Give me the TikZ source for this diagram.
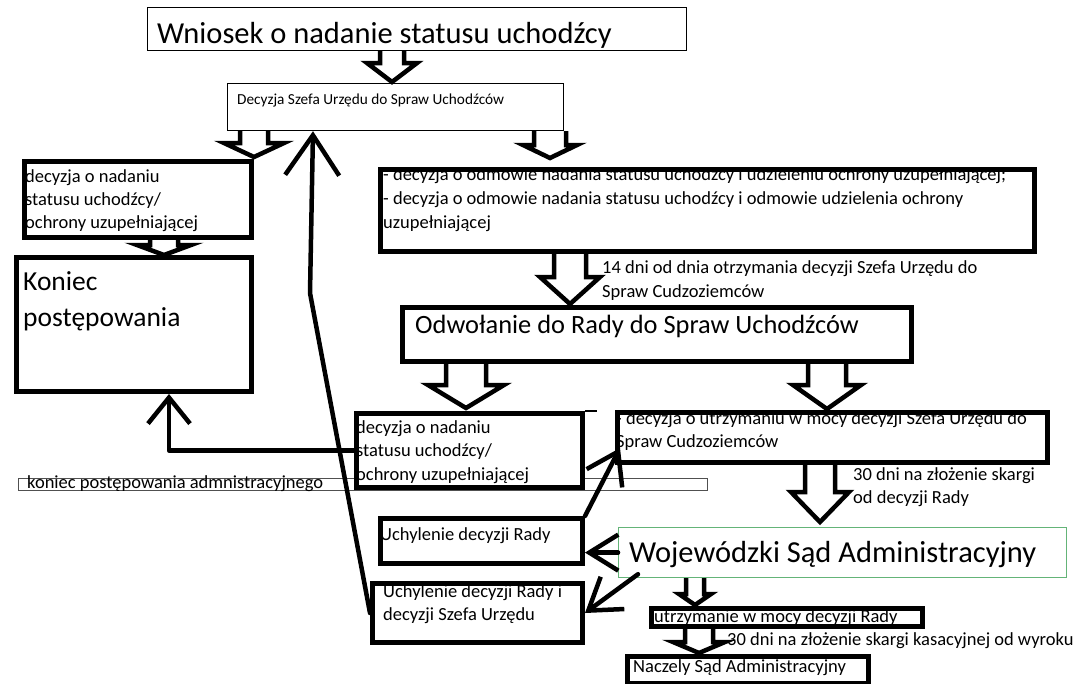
\documentclass[tikz,border=0pt]{standalone}
\usepackage{fontspec}
\setmainfont{Carlito}
\usetikzlibrary{calc,arrows.meta}
\definecolor{wsagreen}{RGB}{100,180,120}
\definecolor{graybox}{RGB}{80,80,80}
\newcommand\fsz[2]{\fontsize{#1}{#2}\selectfont}
% box: style, x1, y1, x2, y2, name
\newcommand\bx[6]{\node[#1, minimum width={#4-#2}, minimum height={#5-#3}] (#6) at (#2,#3) {};}
% hollow arrow: cx, source, target, tip gap, head length, half shaft, half head
\newcommand\harrow[7]{%
  \path (#1,0 |- #2.south) coordinate (a1) (#1,0 |- #3.north) coordinate (a2);
  \draw[hollow] ($(a1)+(-#6,0)$) -- ($(a2)+(-#6,-#4-#5)$) -- ($(a2)+(-#7,-#4-#5)$)
     -- ($(a2)+(0,-#4)$) -- ($(a2)+(#7,-#4-#5)$) -- ($(a2)+(#6,-#4-#5)$) -- ($(a1)+(#6,0)$);}
\begin{document}
\begin{tikzpicture}[x=1pt,y=-1pt,
  thinbox/.style={draw=black, line width=1.2pt, fill=white, rectangle, inner sep=0pt, outer sep=0.6pt, anchor=north west},
  thickbox/.style={draw=black, line width=5pt, fill=white, rectangle, inner sep=0pt, outer sep=2.5pt, anchor=north west},
  greenbox/.style={thinbox, draw=wsagreen},
  graybx/.style={thinbox, draw=graybox, line width=1.3pt},
  hollow/.style={draw=black, fill=white, line width=4.5pt, line join=miter},
  stick/.style={draw=black, line width=4.5pt, line cap=round, line join=round},
  txt/.style={inner sep=0pt, anchor=base west, align=left, text=black},
  small/.style={txt, font=\fsz{18.5}{23}},
]
\useasboundingbox[fill=white] (0,0) rectangle (1083,683);

% gray background note box
\bx{graybx}{18}{478}{707}{490}{grayb}
\node[small] (grayt) at (27,488) {koniec postępowania admnistracyjnego};

% boxes
\bx{thinbox}{147}{7}{686}{50}{title}
\bx{thinbox}{227}{83}{563}{130}{dec}
\bx{thickbox}{22}{159}{249}{235}{nad1}
\bx{thickbox}{14}{255}{249}{389}{koniec}
\bx{thickbox}{378}{167}{1032}{249}{odm}
\bx{thickbox}{400}{305}{909}{359}{odw}
\bx{thickbox}{354}{411}{580}{485}{nad2}
\bx{thickbox}{615}{410}{1045}{460}{utrz}
\bx{greenbox}{618}{527}{1066}{577}{wsa}
\bx{thickbox}{378}{516}{580}{561}{ur}
\bx{thickbox}{370}{581}{580}{640}{ui}
\bx{thickbox}{649}{606}{920}{624}{utr}
\bx{thickbox}{625}{654}{866}{681}{nsa}
\draw[line width=2pt] (nad2.north east) -- ++(12,0);

% texts (multi-line nodes are placed at the baseline of their last line)
\node[txt, font=\fsz{30.5}{34}] (titlet) at (157,43) {Wniosek o nadanie statusu uchodźcy};
\node[txt, font=\fsz{15.3}{18}] (dect) at (237,104) {Decyzja Szefa Urzędu do Spraw Uchodźców};
\node[small] (nad1t) at (25,228) {decyzja o nadaniu\\statusu uchodźcy/\\ochrony uzupełniającej};
\node[txt, font=\fsz{27.5}{36}] (koniect) at (23,326) {Koniec\\postępowania};
\node[small, font=\fsz{18.5}{24}] (odmt) at (383,228) {- decyzja o odmowie nadania statusu uchodźcy i udzieleniu ochrony uzupełniającej;\\- decyzja o odmowie nadania statusu uchodźcy i odmowie udzielenia ochrony\\uzupełniającej};
\node[small, font=\fsz{18.5}{24}] (l14) at (602,297) {14 dni od dnia otrzymania decyzji Szefa Urzędu do\\Spraw Cudzoziemców};
\node[txt, font=\fsz{26.4}{30}] (odwt) at (415,333) {Odwołanie do Rady do Spraw Uchodźców};
\node[small, font=\fsz{18.5}{23.5}] (nad2t) at (356,480) {decyzja o nadaniu\\statusu uchodźcy/\\ochrony uzupełniającej};
\node[small] (utrzt) at (616,447) {- decyzja o utrzymaniu w mocy decyzji Szefa Urzędu do\\Spraw Cudzoziemców};
\node[small] (l30a) at (853,503) {30 dni na złożenie skargi\\od decyzji Rady};
\node[txt, font=\fsz{30.5}{34}] (wsat) at (629,562) {Wojewódzki Sąd Administracyjny};
\node[small] (urt) at (380,540) {Uchylenie decyzji Rady};
\node[small] (uit) at (383,620) {Uchylenie decyzji Rady i\\decyzji Szefa Urzędu};
\node[small] (utrt) at (654,622) {utrzymanie w mocy decyzji Rady};
\node[small] (l30b) at (727,645) {30 dni na złożenie skargi kasacyjnej od wyroku};
\node[small] (nsat) at (633,672) {Naczely Sąd Administracyjny};

% hollow arrows
\harrow{392}{title}{dec}{1}{19}{12}{25}
\harrow{254}{dec}{nad1}{2}{14}{14}{30}
\harrow{550}{dec}{odm}{9}{13}{16}{27}
\harrow{164}{nad1}{koniec}{0}{10}{14}{27}
\harrow{570}{odm}{odw}{1}{27}{16}{30}
\harrow{466}{odw}{nad2}{3}{23}{20}{38}
\harrow{827}{odw}{utrz}{1}{24}{19}{34}
\harrow{820}{utrz}{wsa}{5}{30}{15}{29}
\harrow{695}{wsa}{utr}{1}{11}{9}{16}
\harrow{699}{utr}{nsa}{1}{11}{14}{26}

% stick arrows
\draw[stick, -{Straight Barb[length=26pt,width=42pt]}] (nad2.west) -| (koniec.south -| 169,0);
\draw[stick, -{Straight Barb[length=40pt,width=54pt]}] (ui.west) -- (310,293) -- (dec.south -| 313,0);
\coordinate (rtip) at (620,448);
\draw[stick, -{Straight Barb[length=30pt,width=40pt]}] (ur.north east) -- (rtip);
\draw[stick, -{Straight Barb[length=29pt,width=36pt]}] (wsa.west) -- (wsa.west -| ur.east);
\coordinate (wsab) at ($(wsa.south west)+(20,-4)$);
\draw[stick, -{Straight Barb[length=30pt,width=40pt]}] (wsab) -- (ui.east);
\end{tikzpicture}
\end{document}
